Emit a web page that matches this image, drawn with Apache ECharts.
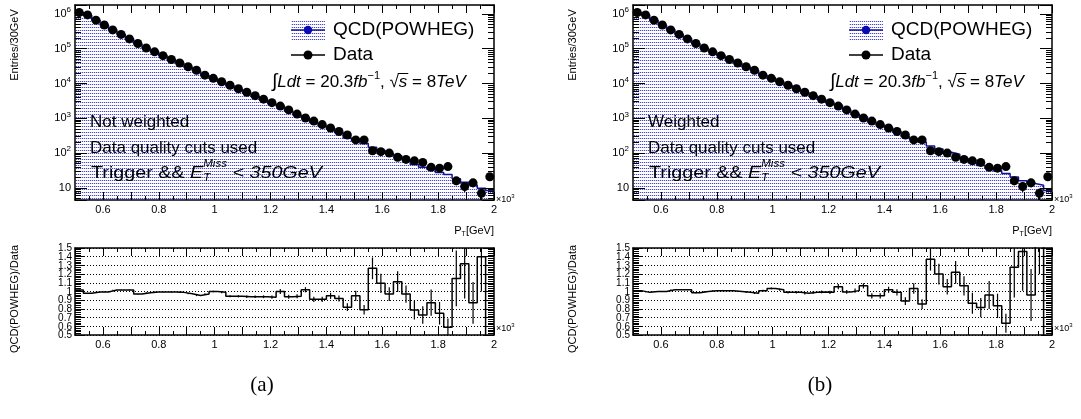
<!DOCTYPE html>
<html><head><meta charset="utf-8">
<script src="https://cdn.jsdelivr.net/npm/echarts@6/dist/echarts.min.js"></script>
<style>html,body{margin:0;padding:0;background:#fff}#c{width:1081px;height:419px}</style>
</head><body><div id="c"></div>
<script>
// ---------------- data (x in units of 10^3 GeV) ----------------
const binEdges = [0.50,0.53,0.56,0.59,0.62,0.65,0.68,0.71,0.74,0.77,0.80,0.83,0.86,0.89,0.92,0.95,0.98,1.01,1.04,1.07,1.10,1.13,1.16,1.19,1.22,1.25,1.28,1.31,1.34,1.37,1.40,1.43,1.46,1.49,1.52,1.55,1.58,1.61,1.64,1.67,1.70,1.73,1.76,1.79,1.82,1.85,1.88,1.91,1.94,1.97,2.00];
const binCenters = [0.515,0.545,0.575,0.605,0.635,0.665,0.695,0.725,0.755,0.785,0.815,0.845,0.875,0.905,0.935,0.965,0.995,1.025,1.055,1.085,1.115,1.145,1.175,1.205,1.235,1.265,1.295,1.325,1.355,1.385,1.415,1.445,1.475,1.505,1.535,1.565,1.595,1.625,1.655,1.685,1.715,1.745,1.775,1.805,1.835,1.865,1.895,1.925,1.955,1.985];
const dataCounts = [1100000,933000,661000,479000,347000,257000,191000,141000,105000,81300,63100,49000,38900,30200,24000,17400,14100,11200,8910,7080,5620,4470,3550,2820,2240,1740,1320,1020,832,661,525,417,331,240,240,117,110,100,76,66,60,54,39,37,41,16,11,14,7,21];
const dataErr = [1049,966,813,692,589,507,437,375,324,285,251,221,197,174,155,132,119,106,94,84,75,67,60,53,47,42,36,32,29,26,23,20,18,15.5,15.5,10.8,10.5,10,8.7,8.1,7.7,7.3,6.2,6.1,6.4,4,3.3,3.7,2.6,4.6];
const mcNotWeighted = [1120000,914000,658000,477000,353000,261000,194000,137000,103400,80900,62800,48750,38500,29450,22900,16900,14100,11090,8420,6690,5280,4200,3340,2640,2240,1636,1247,1040,757,601,499,384,271,228,190,148,120,97,84.6,64,47.2,39.4,34,27.8,24.2,18.4,14.5,12.2,9.8,8.4];
const mcWeighted = [1111000,924000,661000,479000,354000,262000,194800,138900,105000,82100,63700,49500,38900,29900,23520,17570,14590,11420,8820,7010,5510,4430,3530,2790,2360,1730,1333,1086,790,628,536,413,295,248,205,160,132,105.5,92.7,70.3,51.9,44,37.4,30.9,26,20.5,16.1,13.4,11.9,8.4];
const ratioNotWeighted = [1.017,0.98,0.995,0.995,1.017,1.017,1.017,0.97,0.985,0.995,0.995,0.995,0.99,0.975,0.955,0.97,1.0,0.99,0.945,0.945,0.94,0.94,0.94,0.935,1.0,0.94,0.945,1.02,0.91,0.91,0.95,0.92,0.82,0.95,0.79,1.266,1.094,0.97,1.113,0.97,0.787,0.73,0.872,0.75,0.59,1.15,1.32,0.87,1.40,0.4];
const ratioNotWeightedErr = [0.002,0.002,0.002,0.003,0.003,0.003,0.004,0.004,0.005,0.005,0.006,0.006,0.007,0.008,0.008,0.009,0.010,0.011,0.012,0.013,0.014,0.015,0.016,0.018,0.03,0.022,0.024,0.03,0.03,0.03,0.035,0.035,0.045,0.06,0.055,0.125,0.11,0.08,0.12,0.1,0.11,0.1,0.15,0.13,0.1,0.32,0.4,0.24,0.4,0.05];
const ratioWeighted = [1.01,0.99,1.0,1.0,1.02,1.02,1.02,0.985,1.0,1.01,1.01,1.01,1.0,0.99,0.98,1.01,1.035,1.02,0.99,0.99,0.98,0.99,0.995,0.99,1.055,0.995,1.01,1.065,0.95,0.95,1.02,0.99,0.89,1.035,0.855,1.37,1.2,1.055,1.22,1.065,0.865,0.815,0.96,0.835,0.635,1.28,1.46,0.96,1.7,0.4];
const ratioWeightedErr = [0.002,0.002,0.002,0.003,0.003,0.003,0.004,0.004,0.005,0.005,0.006,0.006,0.007,0.008,0.008,0.009,0.010,0.011,0.012,0.013,0.014,0.015,0.016,0.018,0.03,0.022,0.024,0.03,0.03,0.03,0.035,0.035,0.045,0.06,0.055,0.13,0.12,0.09,0.13,0.11,0.12,0.11,0.16,0.14,0.11,0.35,0.45,0.3,0.5,0.05];
const xTickLabels = ['0.6','0.8','1','1.2','1.4','1.6','1.8','2'];
const logTickExponents = [1,2,3,4,5,6];
const ratioTickLabels = ['0.5','0.6','0.7','0.8','0.9','1','1.1','1.2','1.3','1.4','1.5'];

// ---------------- helpers ----------------
const FONT = '"Liberation Sans", Arial, Helvetica, sans-serif';
const measureCtx = document.createElement('canvas').getContext('2d');
function fontStr(s){ return (s.it ? 'italic ' : '') + s.size + 'px ' + FONT; }
function textRun(x, y, segs, align){
  const items = []; let cx = 0;
  segs.forEach(s => {
    measureCtx.font = fontStr(s);
    const w = measureCtx.measureText(s.t).width;
    items.push({s: s, ox: cx, w: w});
    if (s.adv !== false) cx += w;
  });
  const x0 = align === 'right' ? x - cx : (align === 'center' ? x - cx / 2 : x);
  const els = [];
  items.forEach(it => {
    els.push({type:'text', x: x0 + it.ox, y: y + (it.s.dy || 0), z: 100, silent: true,
      style:{text: it.s.t, font: fontStr(it.s), fill:'#000', textAlign:'left', textVerticalAlign:'middle', align:'left', verticalAlign:'middle'}});
    if (it.s.over) {
      els.push({type:'line', z: 100, silent: true, shape:{x1: x0 + it.ox - 1, y1: y - it.s.size*0.5, x2: x0 + it.ox + it.w + 1, y2: y - it.s.size*0.5}, style:{stroke:'#000', lineWidth: 1}});
    }
  });
  return els;
}
function makePattern(){
  const c = document.createElement('canvas'); c.width = 2; c.height = 3;
  const ctx = c.getContext('2d');
  ctx.fillStyle = '#ffffff'; ctx.fillRect(0,0,2,3);
  ctx.fillStyle = '#4a4ac8'; ctx.fillRect(0,0,1,1);
  ctx.fillStyle = '#d4d4f4'; ctx.fillRect(1,0,1,1);
  return c;
}
const patternCanvas = makePattern();
function pattern(){ return {image: patternCanvas, repeat: 'repeat'}; }

const BLUE = '#12129a';
const GRID_W = 419, TOP_Y = 5, TOP_H = 195, RAT_Y = 248, RAT_H = 87;
const PANEL_LEFT = [75, 633];

function xAxisPair(gridIndex){
  const common = {type:'value', gridIndex: gridIndex, min:0.5, max:2.0, interval:0.1, z:10,
    splitLine:{show:false},
    axisLine:{show:true, onZero:false, lineStyle:{color:'#000', width:1.5}},
    axisTick:{show:true, inside:true, length:8, lineStyle:{color:'#000', width:1}},
    minorTick:{show:true, splitNumber:2, length:4, lineStyle:{color:'#000', width:1}}};
  return [
    Object.assign({}, common, {position:'bottom', axisLabel:{show:true, margin:4, fontSize:11, color:'#000', fontFamily:FONT,
      showMinLabel:true, showMaxLabel:true,
      formatter: v => { const s = String(Math.round(v*10)/10); return xTickLabels.indexOf(s) >= 0 ? s : ''; }}}),
    Object.assign({}, common, {position:'top', axisLabel:{show:false}})
  ];
}
function logYAxisPair(gridIndex){
  const common = {type:'log', logBase:10, gridIndex: gridIndex, min:4.5, max:1.8e6, z:10,
    splitLine:{show:false},
    axisLine:{show:true, onZero:false, lineStyle:{color:'#000', width:1.5}},
    axisTick:{show:true, inside:true, length:12, lineStyle:{color:'#000', width:1}},
    minorTick:{show:true, splitNumber:9, length:6, lineStyle:{color:'#000', width:1}}};
  return [
    Object.assign({}, common, {position:'left', axisLabel:{show:true, margin:4, fontSize:11, color:'#000', fontFamily:FONT,
      showMinLabel:false, showMaxLabel:false,
      formatter: v => { const e = Math.round(Math.log10(v)); if (Math.abs(Math.log10(v)-e) > 1e-6 || logTickExponents.indexOf(e) < 0) return ''; return e === 1 ? '{b|10}' : '{b|10}{s|' + e + '}'; },
      rich:{b:{fontSize:11, fontFamily:FONT, color:'#000'}, s:{fontSize:8, fontFamily:FONT, color:'#000', padding:[0,0,8,0]}}}}),
    Object.assign({}, common, {position:'right', axisLabel:{show:false}})
  ];
}
function ratioYAxisPair(gridIndex){
  const common = {type:'value', gridIndex: gridIndex, min:0.5, max:1.5, interval:0.1, z:10,
    axisLine:{show:true, onZero:false, lineStyle:{color:'#000', width:1.5}},
    axisTick:{show:true, inside:true, length:10, lineStyle:{color:'#000', width:1}},
    minorTick:{show:true, splitNumber:5, length:6, lineStyle:{color:'#000', width:1}}};
  return [
    Object.assign({}, common, {position:'left', splitLine:{show:true, lineStyle:{color:'#000', width:1, type:[1,2]}},
      axisLabel:{show:false}}),
    Object.assign({}, common, {position:'right', splitLine:{show:false}, axisLabel:{show:false}})
  ];
}
function stepData(vals){ return binEdges.map((e,i) => [e, vals[Math.min(i, vals.length-1)]]); }
function errRender(isLog){
  return function(params, api){
    const x = api.value(0), y = api.value(1), e = api.value(2);
    let lo = y - e; if (isLog) lo = Math.max(lo, 1e-3);
    const p1 = api.coord([x, lo]), p2 = api.coord([x, y + e]);
    return {type:'line', shape:{x1:p1[0], y1:p1[1], x2:p2[0], y2:p2[1]}, style:{stroke:'#000', lineWidth:1.2}};
  };
}
function ratioLabelRender(params, api){
  const p = api.coord([api.value(0), api.value(1)]);
  return {type:'text', x: p[0] - 3, y: p[1] + 0.5,
    style:{text: ratioTickLabels[params.dataIndex], font:'10px ' + FONT, fill:'#000', textAlign:'right', textVerticalAlign:'middle', align:'right', verticalAlign:'middle'}};
}

const panels = [
  {mc: mcNotWeighted, ratio: ratioNotWeighted, rerr: ratioNotWeightedErr, label:'Not weighted', tag:'(a)'},
  {mc: mcWeighted, ratio: ratioWeighted, rerr: ratioWeightedErr, label:'Weighted', tag:'(b)'}
];

const grids = [], xAxes = [], yAxes = [], series = [], graphics = [];
panels.forEach((p, pi) => {
  const L = PANEL_LEFT[pi];
  const dx = L - 75;
  const gTop = pi*2, gRat = pi*2 + 1;
  grids.push({left:L, top:TOP_Y, width:GRID_W, height:TOP_H, outerBoundsMode:'none'});
  grids.push({left:L, top:RAT_Y, width:GRID_W, height:RAT_H, outerBoundsMode:'none'});
  xAxes.push(...xAxisPair(gTop)); yAxes.push(...logYAxisPair(gTop));
  xAxes.push(...xAxisPair(gRat)); yAxes.push(...ratioYAxisPair(gRat));
  const xiTop = gTop*2, xiRat = gRat*2;
  // top panel
  series.push({type:'line', xAxisIndex:xiTop, yAxisIndex:xiTop, step:'end', symbol:'none', silent:true, z:2,
    data: stepData(p.mc), lineStyle:{color:BLUE, width:1.5}, areaStyle:{color: pattern(), opacity:1, origin:'start'}});
  series.push({type:'custom', xAxisIndex:xiTop, yAxisIndex:xiTop, clip:true, silent:true, z:3,
    data: binCenters.map((c,i) => [c, dataCounts[i], dataErr[i]]), encode:{x:0, y:1}, renderItem: errRender(true)});
  series.push({type:'scatter', xAxisIndex:xiTop, yAxisIndex:xiTop, symbol:'circle', symbolSize:9, silent:true, z:4, clip:true,
    itemStyle:{color:'#000', opacity:1}, data: binCenters.map((c,i) => [c, dataCounts[i]])});
  // ratio panel
  series.push({type:'line', xAxisIndex:xiRat, yAxisIndex:xiRat, step:'end', symbol:'none', silent:true, z:2, clip:true,
    data: stepData(p.ratio), lineStyle:{color:'#000', width:1.5}});
  series.push({type:'custom', xAxisIndex:xiRat, yAxisIndex:xiRat, clip:true, silent:true, z:3,
    data: binCenters.map((c,i) => [c, p.ratio[i], p.rerr[i]]), encode:{x:0, y:1}, renderItem: errRender(false)});
  // ratio y tick labels (all shown, as in the original)
  series.push({type:'custom', xAxisIndex:xiRat, yAxisIndex:xiRat, clip:false, silent:true, z:20,
    data: ratioTickLabels.map(s => [0.5, parseFloat(s)]), encode:{x:0, y:1}, renderItem: ratioLabelRender});

  // legend
  graphics.push({type:'rect', z:100, silent:true, shape:{x:291+dx, y:20, width:34, height:20}, style:{fill: pattern(), stroke:null}});
  graphics.push({type:'line', z:101, silent:true, shape:{x1:291+dx, y1:30, x2:325+dx, y2:30}, style:{stroke:BLUE, lineWidth:1.5}});
  graphics.push({type:'circle', z:101, silent:true, shape:{cx:308+dx, cy:30, r:4.2}, style:{fill:'#0a0ab4'}});
  graphics.push(...textRun(333+dx, 30, [{t:'QCD(POWHEG)', size:19}]));
  graphics.push({type:'line', z:101, silent:true, shape:{x1:291+dx, y1:55, x2:325+dx, y2:55}, style:{stroke:'#000', lineWidth:1.5}});
  graphics.push({type:'circle', z:101, silent:true, shape:{cx:308+dx, cy:55, r:4.5}, style:{fill:'#000'}});
  graphics.push(...textRun(333+dx, 55, [{t:'Data', size:19}]));
  // luminosity
  graphics.push(...textRun(272+dx, 82, [
    {t:'\u222B', size:19}, {t:'Ldt', size:17, it:true}, {t:' = 20.3', size:17}, {t:'fb', size:17, it:true},
    {t:'\u22121', size:11, dy:-6}, {t:', ', size:17}, {t:'\u221A', size:17}, {t:'s', size:17, it:true, over:true},
    {t:' = 8', size:17}, {t:'TeV', size:17, it:true}]));
  // selection text
  graphics.push(...textRun(90+dx, 122, [{t:p.label, size:17}]));
  graphics.push(...textRun(90+dx, 148, [{t:'Data quality cuts used', size:17}]));
  graphics.push({type:'group', x:91+dx, y:173, scaleX:1.16, scaleY:1, z:100, silent:true,
    children: textRun(0, 0, [{t:'Trigger && ', size:17}, {t:'E', size:17, it:true}, {t:'T', size:10, it:true, dy:5, adv:false},
      {t:'Miss', size:10, it:true, dy:-9}, {t:' < 350', size:17, it:true}, {t:'GeV', size:17, it:true}])});
  // axis titles
  graphics.push({type:'text', z:100, silent:true, x:15+dx, y:45, rotation:Math.PI/2,
    style:{text:'Entries/30GeV', font:'11px '+FONT, fill:'#000', textAlign:'center', textVerticalAlign:'middle', align:'center', verticalAlign:'middle'}});
  graphics.push({type:'text', z:100, silent:true, x:15+dx, y:299, rotation:Math.PI/2,
    style:{text:'QCD(POWHEG)/Data', font:'11px '+FONT, fill:'#000', textAlign:'center', textVerticalAlign:'middle', align:'center', verticalAlign:'middle'}});
  graphics.push(...textRun(494+dx, 231, [{t:'P', size:11}, {t:'T', size:7, dy:3}, {t:'[GeV]', size:11}], 'right'));
  graphics.push(...textRun(496+dx, 200, [{t:'\u00D710', size:9}, {t:'3', size:6, dy:-4}]));
  graphics.push(...textRun(496+dx, 329, [{t:'\u00D710', size:9}, {t:'3', size:6, dy:-4}]));
  // sub-figure tag
  graphics.push({type:'text', z:100, silent:true, x:262+dx, y:385,
    style:{text:p.tag, font:'21px "Liberation Serif", "DejaVu Serif", serif', fill:'#000', textAlign:'center', textVerticalAlign:'middle', align:'center', verticalAlign:'middle'}});
});

const chart = echarts.init(document.getElementById('c'), null, {renderer:'canvas'});
chart.setOption({
  animation:false,
  backgroundColor:'#fff',
  grid: grids, xAxis: xAxes, yAxis: yAxes, series: series,
  graphic: {elements: graphics}
});
</script>
</body></html>
